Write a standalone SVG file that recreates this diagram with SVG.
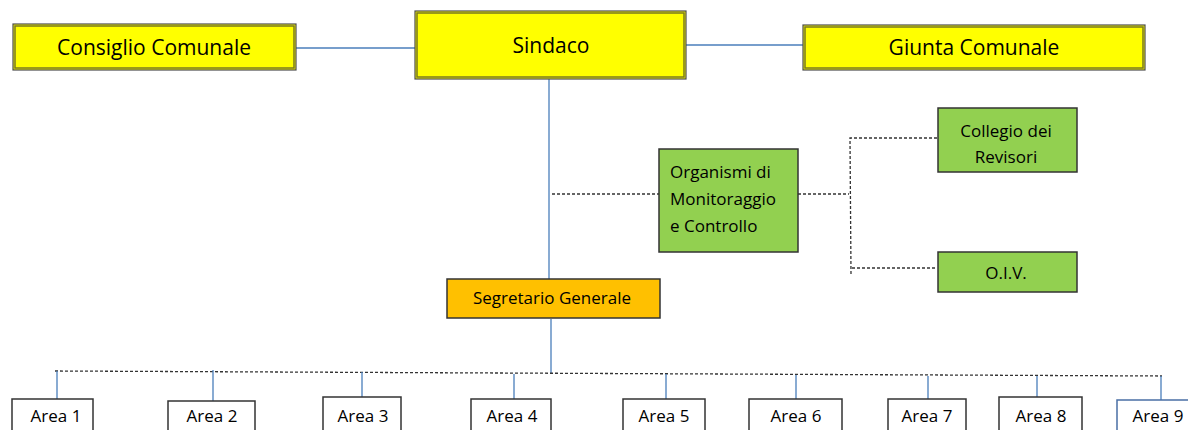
<svg xmlns="http://www.w3.org/2000/svg" width="1188" height="430" viewBox="0 0 1188 430">
<style>
text{font-family:'Comic Sans MS','Open Sans',sans-serif;fill:#000}
.yo{fill:#ffff00;stroke:#4d4d4d;stroke-width:1.2}
.yi{fill:none;stroke:#7a7a20;stroke-width:1.5}
.g{fill:#92d050;stroke:#333;stroke-width:1.5}
.o{fill:#ffc000;stroke:#333;stroke-width:1.5}
.a{fill:#fff;stroke:#333;stroke-width:1.5}
.blue{stroke:#4a7ebb;stroke-width:1.3;fill:none}
.dash{stroke:#333;stroke-width:1.3;stroke-dasharray:3 2;fill:none}
.big{font-size:21px;text-anchor:middle}
.mid{font-size:17px}
.c{text-anchor:middle}
</style>
<g id="connectors">
<line class="blue" x1="296" y1="48" x2="416" y2="48"/>
<line class="blue" x1="686" y1="45" x2="804" y2="45"/>
<line class="blue" x1="549" y1="79" x2="549" y2="280"/>
<line class="dash" x1="552" y1="194" x2="659" y2="194"/>
<line class="dash" x1="798" y1="194" x2="849" y2="194"/>
<polyline class="dash" points="937,138 850,138 851,274"/>
<line class="dash" x1="852" y1="268" x2="937" y2="268"/>
<line class="blue" x1="551" y1="319" x2="551" y2="373"/>
<line class="dash" x1="55" y1="371" x2="1162" y2="376"/>
<line class="blue" x1="57" y1="371" x2="57" y2="399"/>
<line class="blue" x1="213" y1="370" x2="213" y2="401"/>
<line class="blue" x1="362" y1="372" x2="362" y2="397"/>
<line class="blue" x1="514" y1="374" x2="514" y2="399"/>
<line class="blue" x1="666" y1="374" x2="666" y2="399"/>
<line class="blue" x1="796" y1="375" x2="796" y2="399"/>
<line class="blue" x1="928" y1="376" x2="928" y2="399"/>
<line class="blue" x1="1037" y1="376" x2="1037" y2="397"/>
<line class="blue" x1="1161" y1="376" x2="1161" y2="400"/>
</g>
<g id="consiglio">
<rect class="yo" x="13" y="24" width="283" height="46"/>
<rect class="yi" x="15" y="26" width="279" height="42"/>
<text class="big" x="154" y="55">Consiglio Comunale</text>
</g>
<g id="sindaco">
<rect class="yo" x="415" y="11" width="271" height="68"/>
<rect class="yi" x="417" y="13" width="267" height="64"/>
<text class="big" x="551" y="53">Sindaco</text>
</g>
<g id="giunta">
<rect class="yo" x="803" y="25" width="342" height="45"/>
<rect class="yi" x="805" y="27" width="338" height="41"/>
<text class="big" x="974" y="55">Giunta Comunale</text>
</g>
<g id="organismi">
<rect class="g" x="659" y="149" width="139" height="103"/>
<text class="mid" x="670" y="178">Organismi  di</text>
<text class="mid" x="670" y="205">Monitoraggio</text>
<text class="mid" x="670" y="232">e Controllo</text>
</g>
<g id="collegio">
<rect class="g" x="938" y="108" width="139" height="64"/>
<text class="mid c" x="1006" y="137">Collegio dei</text>
<text class="mid c" x="1006" y="163">Revisori</text>
</g>
<g id="oiv">
<rect class="g" x="938" y="252" width="139" height="40"/>
<text class="mid c" x="1006" y="279">O.I.V.</text>
</g>
<g id="segretario">
<rect class="o" x="447" y="279" width="213" height="39"/>
<text class="mid c" x="552" y="304">Segretario Generale</text>
</g>
<g id="area1"><rect class="a" x="12" y="399" width="81" height="45"/><text class="mid c" x="56" y="422">Area 1</text></g>
<g id="area2"><rect class="a" x="168" y="401" width="87" height="45"/><text class="mid c" x="212" y="422">Area 2</text></g>
<g id="area3"><rect class="a" x="323" y="397" width="78" height="45"/><text class="mid c" x="363" y="422">Area 3</text></g>
<g id="area4"><rect class="a" x="471" y="399" width="80" height="45"/><text class="mid c" x="512" y="422">Area 4</text></g>
<g id="area5"><rect class="a" x="623" y="399" width="82" height="45"/><text class="mid c" x="664" y="422">Area 5</text></g>
<g id="area6"><rect class="a" x="749" y="399" width="93" height="45"/><text class="mid c" x="796" y="422">Area 6</text></g>
<g id="area7"><rect class="a" x="888" y="399" width="78" height="45"/><text class="mid c" x="927" y="422">Area 7</text></g>
<g id="area8"><rect class="a" x="999" y="397" width="83" height="45"/><text class="mid c" x="1041" y="422">Area 8</text></g>
<g id="area9"><rect class="a" style="stroke:#4a6fa5" x="1117" y="400" width="90" height="45"/><text class="mid c" x="1158" y="422">Area 9</text></g>
</svg>
